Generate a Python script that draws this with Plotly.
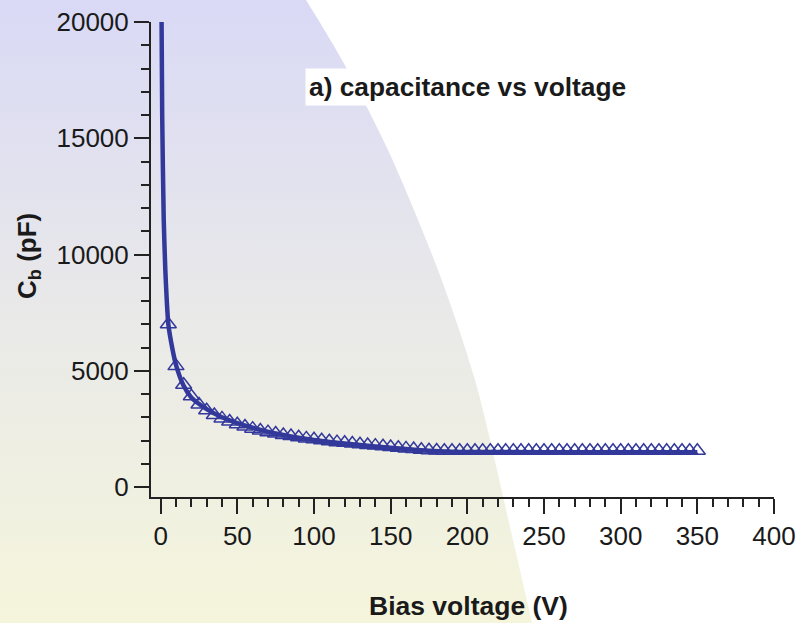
import plotly.graph_objects as go

# ---- data ----
marker_v = list(range(5, 355, 5))
marker_c = [7000, 5200, 4400, 3900, 3550, 3300, 3100, 2950, 2820, 2700,
            2600, 2510, 2430, 2360, 2300, 2240, 2190, 2140, 2090, 2050,
            2010, 1970, 1930, 1900, 1870, 1840, 1810, 1780, 1750, 1720,
            1690, 1660, 1630, 1600, 1580, 1570, 1560, 1560, 1560, 1560,
            1560, 1560, 1560, 1560, 1560, 1560, 1560, 1560, 1560, 1560,
            1560, 1560, 1560, 1560, 1560, 1560, 1560, 1560, 1560, 1560,
            1560, 1560, 1560, 1560, 1560, 1560, 1560, 1560, 1560, 1560]

line_v = [0.6, 1, 2, 3, 4, 5, 7.5, 10, 15, 20, 30, 40, 50, 60, 75, 90,
          100, 120, 140, 160, 175, 190, 200, 250, 300, 350]
line_c = [20000, 16000, 11500, 9400, 8000, 7000, 6000, 5250, 4350, 3850,
          3350, 3000, 2750, 2550, 2300, 2120, 2020, 1870, 1740, 1630,
          1560, 1520, 1505, 1500, 1500, 1500]

x_ticks = [0, 50, 100, 150, 200, 250, 300, 350, 400]
y_ticks = [0, 5000, 10000, 15000, 20000]

# decorative background region (page pixels)
bg_x = [-100, 267, 306, 342, 388, 438, 475, 513, 532, 547, -100]
bg_y = [-60, -60, 0, 60, 150, 270, 380, 540, 623, 700, 700]

W, H = 798, 623
BLUE = '#33399a'
FONT = 'Liberation Sans, Arial, sans-serif'
INK = '#1a1a1a'

fig = go.Figure()

fig.add_trace(go.Scatter(
    x=bg_x, y=bg_y, mode='lines', fill='toself',
    line=dict(width=0, shape='spline', smoothing=0.8),
    fillgradient=dict(type='vertical', start=0, stop=623,
                      colorscale=[[0, '#d9d9f6'], [0.5, '#e9e9e9'], [1, '#f5f5dc']]),
    hoverinfo='skip', showlegend=False, xaxis='x', yaxis='y'))

fig.add_trace(go.Scatter(
    x=line_v, y=line_c, mode='lines',
    line=dict(color=BLUE, width=4.5, shape='spline', smoothing=0.6),
    showlegend=False, xaxis='x2', yaxis='y2'))

fig.add_trace(go.Scatter(
    x=marker_v, y=marker_c, mode='markers',
    marker=dict(symbol='triangle-up-open', size=14, color=BLUE, line=dict(width=1.5, color=BLUE)),
    showlegend=False, xaxis='x2', yaxis='y2'))

x0, x1 = 151 / W, 774 / W
y0, y1 = 1 - 497 / H, 1 - 22 / H

axis_common = dict(showline=True, linewidth=2, linecolor='#222', showgrid=False, zeroline=False,
                   ticks='outside', ticklen=15, tickwidth=2, tickcolor='#222', automargin=False,
                   tickfont=dict(size=26, family=FONT, color=INK))

fig.update_layout(
    template='none',
    width=W, height=H, margin=dict(l=0, r=0, t=0, b=0, pad=0), autosize=False,
    paper_bgcolor='white', plot_bgcolor='rgba(0,0,0,0)',
    font=dict(family=FONT, size=24, color=INK),
    xaxis=dict(domain=[0, 1], range=[0, W], visible=False, fixedrange=True, automargin=False),
    yaxis=dict(domain=[0, 1], range=[H, 0], visible=False, fixedrange=True, automargin=False),
    xaxis2=dict(domain=[x0, x1], range=[-6.3, 400], anchor='y2',
                tickvals=x_ticks, ticktext=[str(t) for t in x_ticks],
                minor=dict(dtick=10, ticks='outside', ticklen=8, tickwidth=2, tickcolor='#222'),
                **axis_common),
    yaxis2=dict(domain=[y0, y1], range=[-430, 20000], anchor='x2',
                tickvals=y_ticks, ticktext=[str(t) for t in y_ticks],
                minor=dict(dtick=1000, ticks='outside', ticklen=8, tickwidth=2, tickcolor='#222'),
                **axis_common),
    annotations=[
        dict(text='<b>a) capacitance vs voltage</b>', xref='paper', yref='paper',
             x=305 / W, y=1 - 87 / H, xanchor='left', yanchor='middle', showarrow=False,
             bgcolor='white', borderpad=3, font=dict(size=26.3, family=FONT, color=INK)),
        dict(text='<b>Bias voltage (V)</b>', xref='paper', yref='paper',
             x=468 / W, y=1 - 606 / H, xanchor='center', yanchor='middle', showarrow=False,
             font=dict(size=26.5, family=FONT, color=INK)),
        dict(text='<b>C<sub>b</sub> (pF)</b>', xref='paper', yref='paper',
             x=28 / W, y=1 - 256 / H, xanchor='center', yanchor='middle', showarrow=False,
             textangle=-90, font=dict(size=26, family=FONT, color=INK)),
    ],
)

fig.write_html('out.html')
